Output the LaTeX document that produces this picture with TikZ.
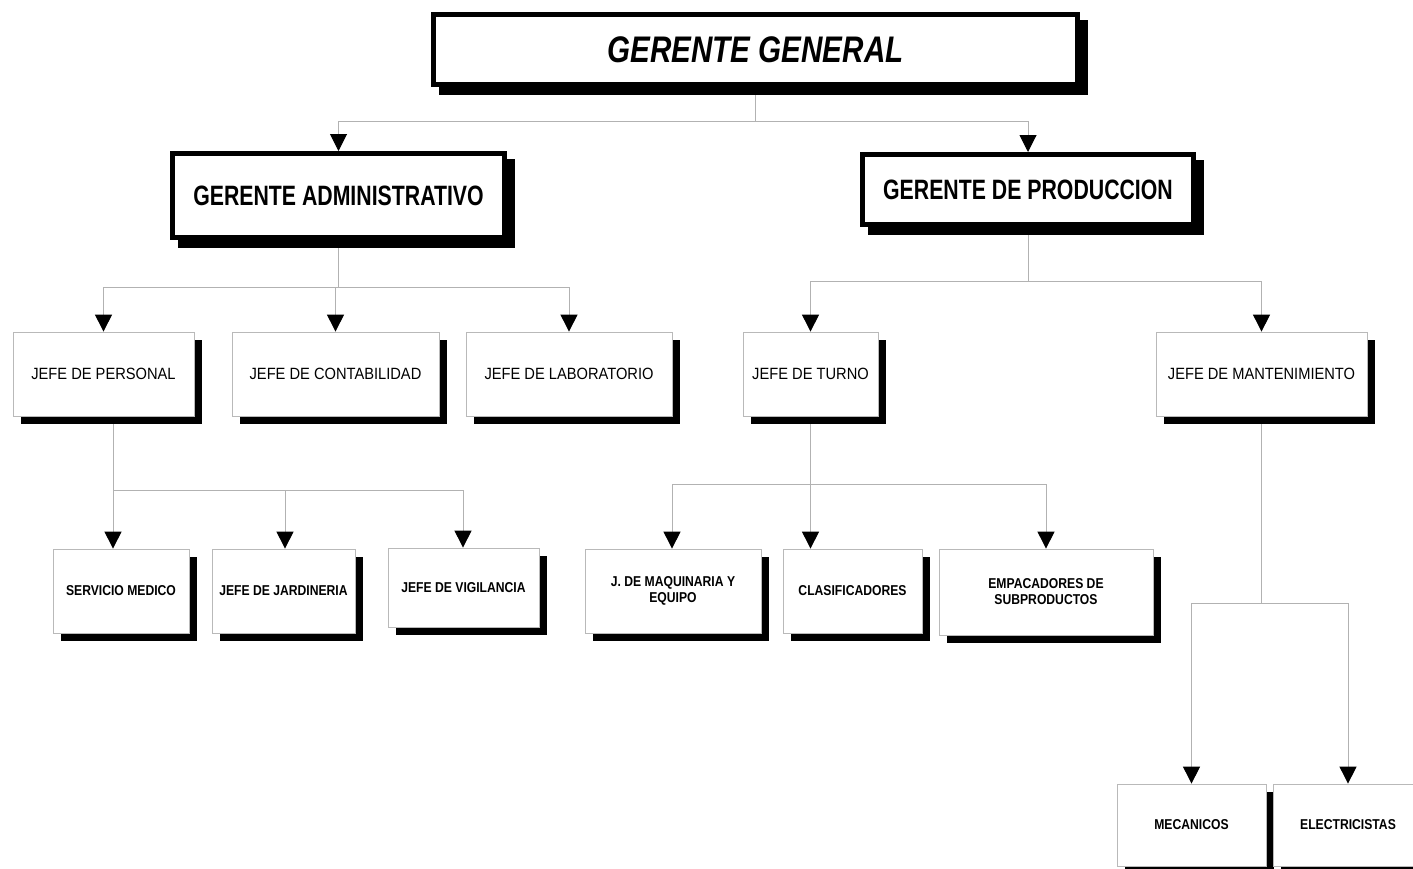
\documentclass[tikz,border=0pt]{standalone}
\usepackage{fontspec}
\setmainfont{Liberation Sans}
\newfontfamily\fGG[FakeStretch=0.8]{Liberation Sans}
\newfontfamily\fGA[FakeStretch=0.76]{Liberation Sans}
\newfontfamily\fLthree[FakeStretch=0.9]{Liberation Sans}
\newfontfamily\fLfour[FakeStretch=0.85]{Liberation Sans}
\usetikzlibrary{shadows,arrows.meta,backgrounds}
\tikzset{
  boxA/.style={draw=black, line width=5pt, fill=white, inner sep=0pt, align=center,
    general shadow={draw=black, fill=black, line width=5pt, shadow xshift=8pt, shadow yshift=-8pt}},
  boxC/.style={draw=gray!55, line width=0.8pt, fill=white, inner sep=0pt, align=center,
    general shadow={fill=black, shadow xshift=8pt, shadow yshift=-8pt}},
  topfont/.style={font=\fGG\fontsize{37}{40}\selectfont\bfseries\itshape},
  midfont/.style={font=\fGA\fontsize{28}{32}\selectfont\bfseries},
  lvlthree/.style={boxC, minimum height=84pt, font=\fLthree\fontsize{16.3}{18}\selectfont},
  lvlfour/.style={boxC, minimum height=84pt, font=\fLfour\fontsize{14.3}{16}\selectfont\bfseries},
  conn/.style={draw=gray!60, line width=1pt},
  arr/.style={conn, -{Triangle[width=17pt,length=17pt,color=black]}}
}
\begin{document}
\begin{tikzpicture}[x=1pt,y=-1pt]
\useasboundingbox (0,0) rectangle (1413,868);
% level 1
\node[boxA, topfont, minimum width=644pt, minimum height=70pt] (gg) at (755.5,49.5) {GERENTE GENERAL};
% level 2
\node[boxA, midfont, minimum width=332pt, minimum height=84pt] (ga) at (338.5,195.5) {GERENTE ADMINISTRATIVO};
\node[boxA, midfont, minimum width=331pt, minimum height=70pt] (gp) at (1028,189.5) {GERENTE DE PRODUCCION};
% level 3
\node[lvlthree, minimum width=181pt] (jp) at (103.5,374) {JEFE DE PERSONAL};
\node[lvlthree, minimum width=207pt] (jc) at (335.5,374) {JEFE DE CONTABILIDAD};
\node[lvlthree, minimum width=206pt] (jl) at (569,374) {JEFE DE LABORATORIO};
\node[lvlthree, minimum width=135pt] (jt) at (810.5,374) {JEFE DE TURNO};
\node[lvlthree, minimum width=211pt] (jm) at (1261.5,374) {JEFE DE MANTENIMIENTO};
% level 4 left
\node[lvlfour, minimum width=136pt] (sm) at (121,591) {SERVICIO MEDICO};
\node[lvlfour, minimum width=143pt] (jj) at (283.5,591) {JEFE DE JARDINERIA};
\node[lvlfour, minimum width=151pt, minimum height=79pt] (jv) at (463.5,587.5) {JEFE DE VIGILANCIA};
% level 4 right
\node[lvlfour, minimum width=176pt] (maq) at (673,591) {J. DE MAQUINARIA Y\\EQUIPO};
\node[lvlfour, minimum width=139pt] (cla) at (852.5,591) {CLASIFICADORES};
\node[lvlfour, minimum width=214pt, minimum height=86pt] (emp) at (1046,592) {EMPACADORES DE\\SUBPRODUCTOS};
% level 5
\node[lvlfour, minimum width=149pt, minimum height=82pt] (mec) at (1191.5,825) {MECANICOS};
\node[lvlfour, minimum width=150pt, minimum height=82pt] (ele) at (1348,825) {ELECTRICISTAS};
% connectors
\begin{pgfonlayer}{background}
\fill[white] (0,0) rectangle (1413,868);
\coordinate (busA) at (0,121);
\coordinate (busB) at (0,287);
\coordinate (busC) at (0,281);
\coordinate (busD) at (0,490);
\coordinate (busE) at (0,484);
\coordinate (busF) at (0,603);
% GG
\draw[conn] (gg.south) -- (gg.south |- busA);
\draw[conn] (ga.north |- busA) -- (gp.north |- busA);
\draw[arr] (ga.north |- busA) -- (ga.north);
\draw[arr] (gp.north |- busA) -- (gp.north);
% GA
\draw[conn] (ga.south) -- (ga.south |- busB);
\draw[conn] (jp.north |- busB) -- (jl.north |- busB);
\draw[arr] (jp.north |- busB) -- (jp.north);
\draw[arr] (jc.north |- busB) -- (jc.north);
\draw[arr] (jl.north |- busB) -- (jl.north);
% GP
\draw[conn] (gp.south) -- (gp.south |- busC);
\draw[conn] (jt.north |- busC) -- (jm.north |- busC);
\draw[arr] (jt.north |- busC) -- (jt.north);
\draw[arr] (jm.north |- busC) -- (jm.north);
% JP
\draw[arr] ([xshift=9.5pt]jp.south) -- ([xshift=9.5pt]jp.south |- sm.north);
\draw[conn] ([xshift=9.5pt]jp.south |- busD) -- ([xshift=-0.5pt]jv.north |- busD);
\draw[arr] ([xshift=1.5pt]jj.north |- busD) -- ([xshift=1.5pt]jj.north);
\draw[arr] ([xshift=-0.5pt]jv.north |- busD) -- ([xshift=-0.5pt]jv.north);
% JT
\draw[arr] (jt.south) -- (jt.south |- cla.north);
\draw[conn] ([xshift=-1pt]maq.north |- busE) -- (emp.north |- busE);
\draw[arr] ([xshift=-1pt]maq.north |- busE) -- ([xshift=-1pt]maq.north);
\draw[arr] (emp.north |- busE) -- (emp.north);
% JM
\draw[conn] (jm.south) -- (jm.south |- busF);
\draw[conn] (mec.north |- busF) -- (ele.north |- busF);
\draw[arr] (mec.north |- busF) -- (mec.north);
\draw[arr] (ele.north |- busF) -- (ele.north);
\end{pgfonlayer}
\end{tikzpicture}
\end{document}
